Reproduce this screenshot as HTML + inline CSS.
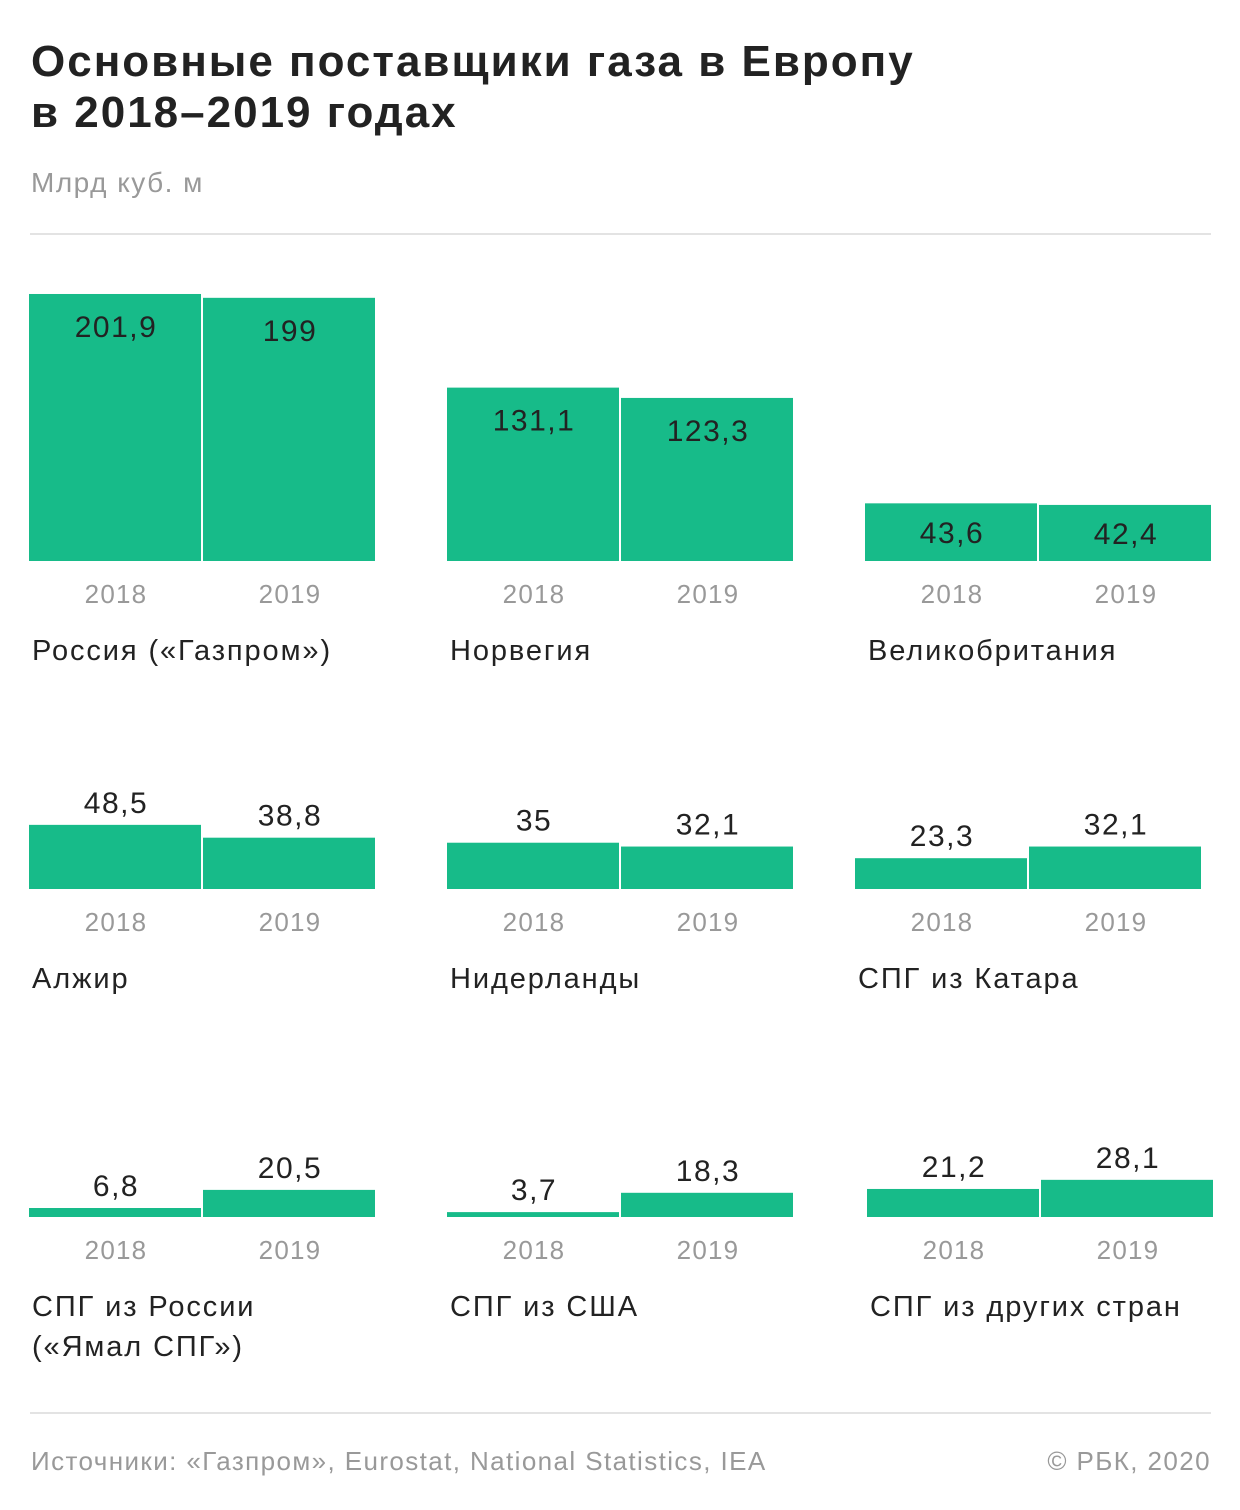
<!DOCTYPE html>
<html><head><meta charset="utf-8"><style>
body{margin:0;background:#fff;width:1240px;height:1510px;overflow:hidden;font-family:"Liberation Sans","DejaVu Sans",sans-serif}
svg{display:block}
</style></head><body>
<svg id="c" width="1240" height="1510">
<text x="31" y="76" font-size="44" font-weight="bold" fill="#222" letter-spacing="2">Основные поставщики газа в Европу</text>
<text x="31" y="127" font-size="44" font-weight="bold" fill="#222" letter-spacing="2">в 2018–2019 годах</text>
<text x="31" y="192" font-size="28" fill="#999" letter-spacing="1.5">Млрд куб. м</text>
<rect x="30" y="233" width="1181" height="2" fill="#e3e3e3"/>
<rect x="30" y="1412" width="1181" height="2" fill="#e3e3e3"/>
<text x="31" y="1470" font-size="26" fill="#999" letter-spacing="1.4">Источники: «Газпром», Eurostat, National Statistics, IEA</text>
<text x="1211" y="1470" font-size="26" fill="#999" letter-spacing="1.4" text-anchor="end">© РБК, 2020</text>
<g id="bars"></g>
</svg>
<script>
const categories=["Россия («Газпром»)","Норвегия","Великобритания","Алжир","Нидерланды","СПГ из Катара","СПГ из России|(«Ямал СПГ»)","СПГ из США","СПГ из других стран"];
const values2018=[201.9,131.1,43.6,48.5,35,23.3,6.8,3.7,21.2];
const values2019=[199,123.3,42.4,38.8,32.1,32.1,20.5,18.3,28.1];
const labels2018=["201,9","131,1","43,6","48,5","35","23,3","6,8","3,7","21,2"];
const labels2019=["199","123,3","42,4","38,8","32,1","32,1","20,5","18,3","28,1"];
const years=["2018","2019"];
const panelX=[29,447,865,29,447,855,29,447,867];
const rowBase=[561,889,1217];
const scale=v=>v*1.3225;
const ns="http://www.w3.org/2000/svg";
const g=document.getElementById('bars');
function mk(tag,attrs){const e=document.createElementNS(ns,tag);for(const k in attrs)e.setAttribute(k,attrs[k]);g.appendChild(e);return e;}
categories.forEach((cat,i)=>{
  const row=Math.floor(i/3), base=rowBase[row], x0=panelX[i];
  [values2018[i],values2019[i]].forEach((v,j)=>{
    const h=scale(v), x=x0+j*174, top=base-h;
    const r=mk('rect',{x:x,y:top,width:172,height:h,fill:'#17bb89'});
    
    
    const lab=j?labels2019[i]:labels2018[i];
    let cy= row===0 ? Math.min(top+32,(top+base)/2) : top-23;
    const t=mk('text',{x:x+87,y:cy+11,'font-size':30,fill:'#222','text-anchor':'middle','letter-spacing':1.5});
    t.textContent=lab;
    
    
    const y=mk('text',{x:x+87,y:base+42,'font-size':26,fill:'#999','text-anchor':'middle','letter-spacing':1.2});
    y.textContent=years[j];
    
    
  });
  cat.split('|').forEach((line,k)=>{
    const c=mk('text',{x:x0+3,y:base+99+k*40,'font-size':29,fill:'#222','letter-spacing':1.9});
    c.textContent=line;
    
    
  });
});
</script>
</body></html>
